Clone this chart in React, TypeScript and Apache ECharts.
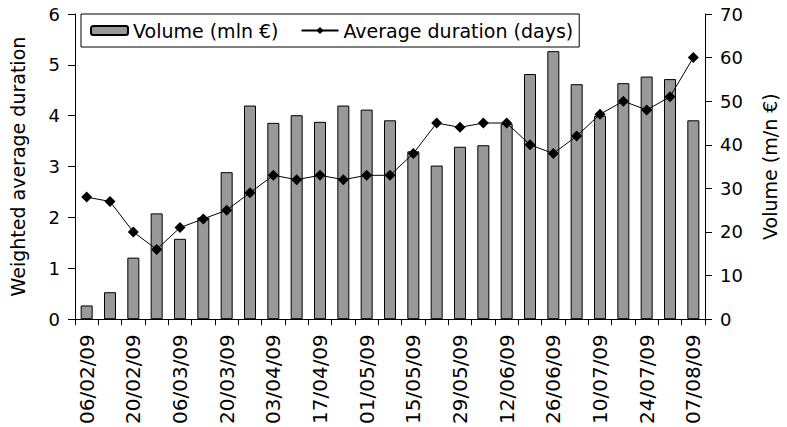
import React, { useEffect, useRef } from "react";
import * as echarts from "echarts";

const categories = [
  "06/02/09", "13/02/09", "20/02/09", "27/02/09", "06/03/09", "13/03/09", "20/03/09",
  "27/03/09", "03/04/09", "10/04/09", "17/04/09", "24/04/09", "01/05/09", "08/05/09",
  "15/05/09", "22/05/09", "29/05/09", "05/06/09", "12/06/09", "19/06/09", "26/06/09",
  "03/07/09", "10/07/09", "17/07/09", "24/07/09", "31/07/09", "07/08/09",
];

const volume = [
  0.27, 0.53, 1.21, 2.08, 1.58, 2.0, 2.89, 4.2, 3.86, 4.01, 3.88, 4.2, 4.12, 3.91,
  3.3, 3.02, 3.39, 3.42, 3.84, 4.82, 5.27, 4.62, 4.0, 4.64, 4.77, 4.72, 3.91,
];

const duration = [
  28, 27, 20, 16, 21, 23, 25, 29, 33, 32, 33, 32, 33, 33,
  38, 45, 44, 45, 45, 40, 38, 42, 47, 50, 48, 51, 60,
];

const leftTicks = { min: 0, max: 6, interval: 1 };
const rightTicks = { min: 0, max: 70, interval: 10 };

const FONT = "DejaVu Sans";

export default function App() {
  const ref = useRef<HTMLDivElement>(null);
  useEffect(() => {
    if (!ref.current) return;
    const chart = echarts.init(ref.current, null, { renderer: "svg" });
    const axisCommon = {
      axisLine: { show: true, lineStyle: { color: "#000", width: 1 } },
      axisTick: { show: true, length: 7, lineStyle: { color: "#000" } },
      splitLine: { show: false },
    };
    chart.setOption({
      animation: false,
      backgroundColor: "#fff",
      textStyle: { fontFamily: FONT },
      grid: { left: 72, right: 82, top: 14, bottom: 105 },
      legend: {
        left: 81,
        top: 14,
        padding: [7, 6, 7, 9],
        itemGap: 22,
        itemWidth: 37,
        itemHeight: 9,
        borderColor: "#000",
        borderWidth: 1,
        borderRadius: 0,
        textStyle: { fontFamily: FONT, fontSize: 19, color: "#000" },
        data: [
          { name: "Volume (mln €)" },
          { name: "Average duration (days)" },
        ],
      },
      xAxis: {
        type: "category",
        data: categories,
        boundaryGap: true,
        ...axisCommon,
        axisTick: { show: true, length: 6, interval: 0, lineStyle: { color: "#000" } },
        axisLabel: {
          interval: 1,
          rotate: 90,
          margin: 15,
          fontSize: 20,
          fontFamily: FONT,
          color: "#000",
        },
      },
      yAxis: [
        {
          type: "value",
          position: "left",
          ...leftTicks,
          ...axisCommon,
          name: "Weighted average duration",
          nameLocation: "middle",
          nameGap: 48,
          nameTextStyle: { fontFamily: FONT, fontSize: 19, color: "#000" },
          axisLabel: { margin: 15, fontSize: 18, fontFamily: FONT, color: "#000" },
        },
        {
          type: "value",
          position: "right",
          ...rightTicks,
          ...axisCommon,
          name: "Volume (m/n €)",
          nameLocation: "middle",
          nameRotate: 90,
          nameGap: 55,
          nameTextStyle: { fontFamily: FONT, fontSize: 19, color: "#000" },
          axisLabel: { margin: 15, fontSize: 18, fontFamily: FONT, color: "#000" },
        },
      ],
      series: [
        {
          name: "Volume (mln €)",
          type: "bar",
          yAxisIndex: 0,
          data: volume,
          barWidth: 12,
          itemStyle: { color: "#999999", borderColor: "#000", borderWidth: 1 },
        },
        {
          name: "Average duration (days)",
          type: "line",
          yAxisIndex: 1,
          data: duration,
          symbol: "diamond",
          symbolSize: 11,
          lineStyle: { color: "#000", width: 1 },
          itemStyle: { color: "#000" },
        },
      ],
    });
    return () => chart.dispose();
  }, []);
  return (
    <div
      ref={ref}
      style={{ position: "absolute", left: 0, top: 0, width: 787, height: 427 }}
    />
  );
}
